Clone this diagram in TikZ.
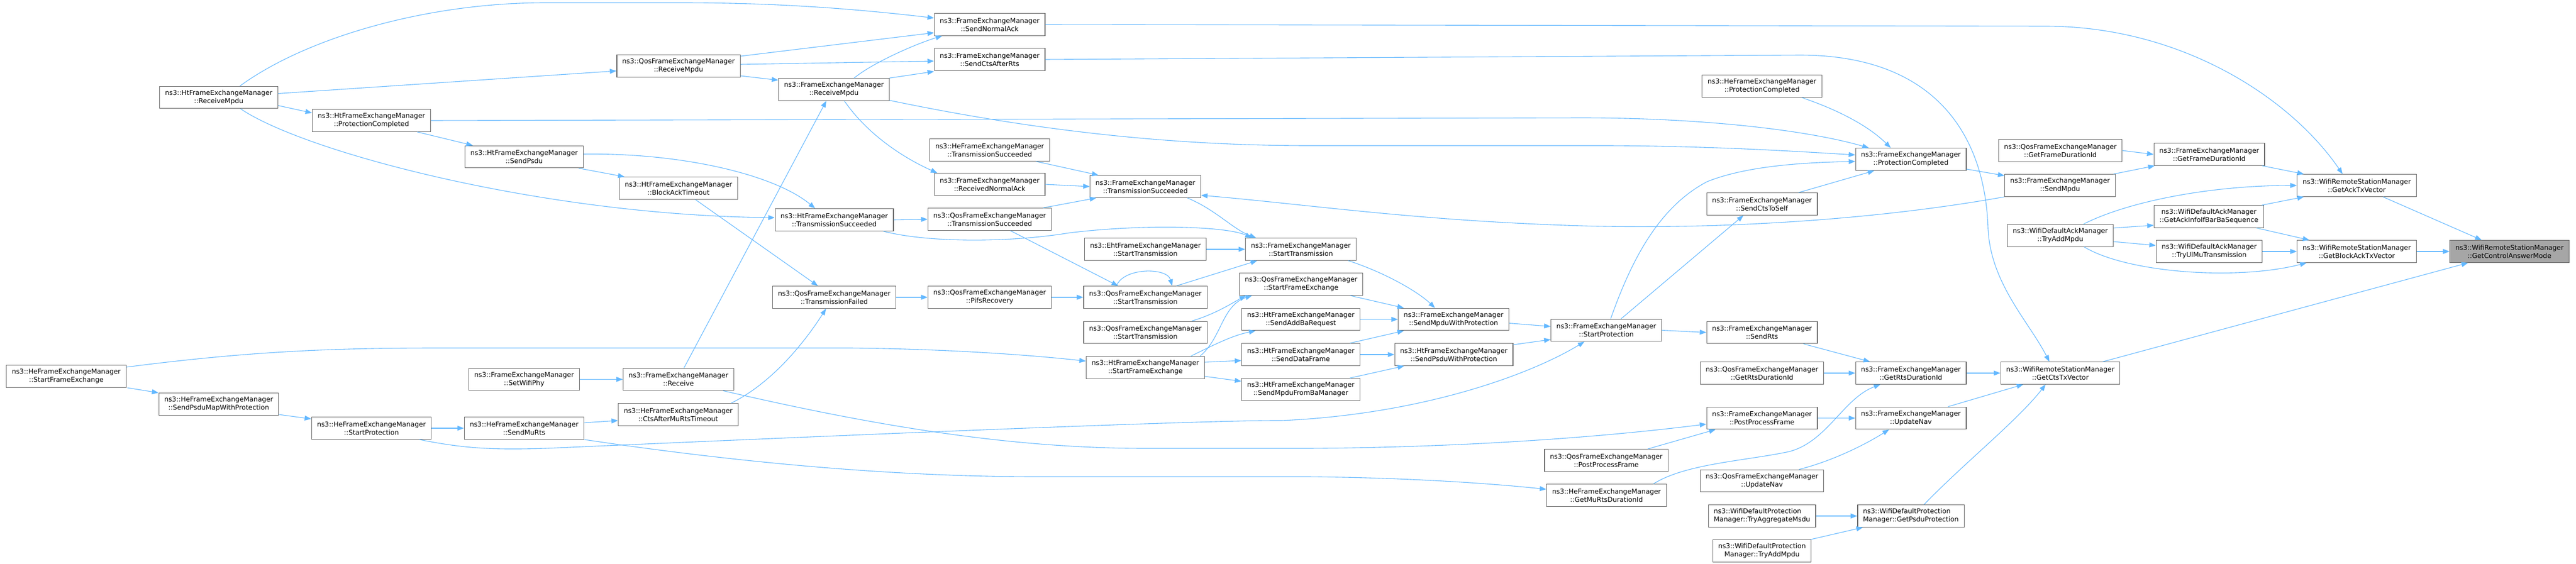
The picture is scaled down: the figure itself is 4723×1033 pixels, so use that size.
\documentclass[tikz,border=0pt]{standalone}
\usepackage{fontspec}
\setmainfont{DejaVu Sans}
\usetikzlibrary{arrows.meta}
\definecolor{edgeblue}{HTML}{63B8FF}
\definecolor{boxgray}{HTML}{666666}
\definecolor{rootgray}{HTML}{A6A6A6}
\begin{document}
\begin{tikzpicture}[x=1pt, y=-1pt,
  fn/.style={draw=boxgray, line width=1.3pt, fill=white, align=center,
    inner xsep=10pt, inner ysep=0pt, minimum height=40.5pt,
    font=\fontsize{12.3}{15}\selectfont},
  root/.style={fn, fill=rootgray},
  call/.style={edgeblue, line width=1.1pt, -{Triangle[length=12pt,width=9pt]}}]
  \fill[white] (0,0) rectangle (4723,1033);
  \useasboundingbox (0,0) rectangle (4723,1033);

  \node[fn] (htRecv) at (401,178.5) {ns3::HtFrameExchangeManager\\::ReceiveMpdu};
  \node[fn] (htProt) at (681,221) {ns3::HtFrameExchangeManager\\::ProtectionCompleted};
  \node[fn] (heSFE) at (121.5,690) {ns3::HeFrameExchangeManager\\::StartFrameExchange};
  \node[fn] (heSPMWP) at (401,741) {ns3::HeFrameExchangeManager\\::SendPsduMapWithProtection};
  \node[fn] (heSP) at (681,785) {ns3::HeFrameExchangeManager\\::StartProtection};
  \node[fn] (qosRecv) at (1244,121) {ns3::QosFrameExchangeManager\\::ReceiveMpdu};
  \node[fn] (femRecv) at (1529,164) {ns3::FrameExchangeManager\\::ReceiveMpdu};
  \node[fn] (htSendPsdu) at (961,287.5) {ns3::HtFrameExchangeManager\\::SendPsdu};
  \node[fn] (htBAT) at (1244,345) {ns3::HtFrameExchangeManager\\::BlockAckTimeout};
  \node[fn] (htTS) at (1529.5,403) {ns3::HtFrameExchangeManager\\::TransmissionSucceeded};
  \node[fn] (qosTF) at (1529.5,545) {ns3::QosFrameExchangeManager\\::TransmissionFailed};
  \node[fn] (femSWP) at (961,695.5) {ns3::FrameExchangeManager\\::SetWifiPhy};
  \node[fn] (femRcv) at (1244,695.5) {ns3::FrameExchangeManager\\::Receive};
  \node[fn] (heCAMRT) at (1243.5,760) {ns3::HeFrameExchangeManager\\::CtsAfterMuRtsTimeout};
  \node[fn] (heSMR) at (961,785) {ns3::HeFrameExchangeManager\\::SendMuRts};
  \node[fn] (femSNA) at (1814.5,45) {ns3::FrameExchangeManager\\::SendNormalAck};
  \node[fn] (femSCAR) at (1814.5,109) {ns3::FrameExchangeManager\\::SendCtsAfterRts};
  \node[fn] (heTS) at (1814.5,275) {ns3::HeFrameExchangeManager\\::TransmissionSucceeded};
  \node[fn] (femRNA) at (1814.5,338) {ns3::FrameExchangeManager\\::ReceivedNormalAck};
  \node[fn] (femTS) at (2100,342) {ns3::FrameExchangeManager\\::TransmissionSucceeded};
  \node[fn] (qosTS) at (1814.5,402) {ns3::QosFrameExchangeManager\\::TransmissionSucceeded};
  \node[fn] (ehtST) at (2100,457) {ns3::EhtFrameExchangeManager\\::StartTransmission};
  \node[fn] (femST) at (2385,457) {ns3::FrameExchangeManager\\::StartTransmission};
  \node[fn] (qosSFE) at (2385.5,521) {ns3::QosFrameExchangeManager\\::StartFrameExchange};
  \node[fn] (qosPR) at (1814.5,545) {ns3::QosFrameExchangeManager\\::PifsRecovery};
  \node[fn] (qosST1) at (2100,545) {ns3::QosFrameExchangeManager\\::StartTransmission};
  \node[fn] (qosST2) at (2100,609.5) {ns3::QosFrameExchangeManager\\::StartTransmission};
  \node[fn] (htSFE) at (2100,674) {ns3::HtFrameExchangeManager\\::StartFrameExchange};
  \node[fn] (htSABR) at (2385,585.5) {ns3::HtFrameExchangeManager\\::SendAddBaRequest};
  \node[fn] (htSDF) at (2385,650) {ns3::HtFrameExchangeManager\\::SendDataFrame};
  \node[fn] (htSMFBM) at (2385,714) {ns3::HtFrameExchangeManager\\::SendMpduFromBaManager};
  \node[fn] (femSMWP) at (2665,585.5) {ns3::FrameExchangeManager\\::SendMpduWithProtection};
  \node[fn] (htSPWP) at (2665.5,650) {ns3::HtFrameExchangeManager\\::SendPsduWithProtection};
  \node[fn] (femSP) at (2945,605.5) {ns3::FrameExchangeManager\\::StartProtection};
  \node[fn] (qosPPF) at (2945,844) {ns3::QosFrameExchangeManager\\::PostProcessFrame};
  \node[fn] (heGMRDI) at (2945.5,908) {ns3::HeFrameExchangeManager\\::GetMuRtsDurationId};
  \node[fn] (heProt) at (3230.5,158) {ns3::HeFrameExchangeManager\\::ProtectionCompleted};
  \node[fn] (femProt) at (3503.5,292) {ns3::FrameExchangeManager\\::ProtectionCompleted};
  \node[fn] (femSCTS) at (3230.5,374) {ns3::FrameExchangeManager\\::SendCtsToSelf};
  \node[fn] (qosGFDI) at (3777.5,276) {ns3::QosFrameExchangeManager\\::GetFrameDurationId};
  \node[fn] (femSM) at (3777,340) {ns3::FrameExchangeManager\\::SendMpdu};
  \node[fn] (wdamTAM) at (3777.5,432) {ns3::WifiDefaultAckManager\\::TryAddMpdu};
  \node[fn] (femSRts) at (3230.5,609.5) {ns3::FrameExchangeManager\\::SendRts};
  \node[fn] (qosGRDI) at (3230.5,684) {ns3::QosFrameExchangeManager\\::GetRtsDurationId};
  \node[fn] (femPPF) at (3230.5,766.5) {ns3::FrameExchangeManager\\::PostProcessFrame};
  \node[fn] (qosUN) at (3230.5,881.5) {ns3::QosFrameExchangeManager\\::UpdateNav};
  \node[fn, align=left] (wdpTAMsdu) at (3230.5,946) {ns3::WifiDefaultProtection\\Manager::TryAggregateMsdu};
  \node[fn] (wdpTAMpdu) at (3230.5,1010) {ns3::WifiDefaultProtection\\Manager::TryAddMpdu};
  \node[fn] (femGRDI) at (3503.5,684) {ns3::FrameExchangeManager\\::GetRtsDurationId};
  \node[fn] (femUN) at (3503.5,766.5) {ns3::FrameExchangeManager\\::UpdateNav};
  \node[fn] (wrsmGCTV) at (3777.5,684) {ns3::WifiRemoteStationManager\\::GetCtsTxVector};
  \node[fn, align=left] (wdpGPP) at (3503.5,946) {ns3::WifiDefaultProtection\\Manager::GetPsduProtection};
  \node[fn] (femGFDI) at (4050.5,283) {ns3::FrameExchangeManager\\::GetFrameDurationId};
  \node[fn] (wrsmGATV) at (4321,340) {ns3::WifiRemoteStationManager\\::GetAckTxVector};
  \node[fn] (wdamGAI) at (4050,397) {ns3::WifiDefaultAckManager\\::GetAckInfoIfBarBaSequence};
  \node[fn] (wdamTUMT) at (4050.5,461) {ns3::WifiDefaultAckManager\\::TryUlMuTransmission};
  \node[fn] (wrsmGBATV) at (4321,461) {ns3::WifiRemoteStationManager\\::GetBlockAckTxVector};
  \node[root] (wrsmGCAM) at (4601,461) {ns3::WifiRemoteStationManager\\::GetControlAnswerMode};

  \foreach \a/\b in {heSP/heSMR, htTS/qosTS, qosTF/qosPR, femSWP/femRcv, ehtST/femST,
      qosPR/qosST1, htSABR/femSMWP, htSDF/htSPWP, femSP/femSRts, qosGRDI/femGRDI,
      femPPF/femUN, femGRDI/wrsmGCTV, wdpTAMsdu/wdpGPP, wdamTUMT/wrsmGBATV,
      wrsmGBATV/wrsmGCAM, femRNA/femTS, qosGFDI/femGFDI}
    \draw[call] (\a.east) -- (\b.west);

  \draw[call] ([xshift=39pt]htRecv.north) .. controls (560,70) and (780,5) .. (1000,5)
    -- (1250,5) .. controls (1450,5) and (1600,20) .. ([yshift=12pt]femSNA.west);
  \draw[call] ([yshift=7pt]htRecv.east) -- ([yshift=-9pt]qosRecv.west);
  \draw[call] ([yshift=-15pt]htRecv.east) -- ([yshift=14pt]htProt.west);
  \draw[call] ([xshift=40pt]htRecv.south) .. controls (560,280) and (1000,395) .. ([yshift=4pt]htTS.west);
  \draw[call] (htProt.east) -- (2900,216) .. controls (3100,216) and (3300,235) .. ([xshift=-77pt]femProt.north);
  \draw[call] ([xshift=84pt]htProt.south) -- ([xshift=-94pt]htSendPsdu.north);
  \draw[call] ([xshift=112pt]heSFE.south) -- (heSPMWP.north west);
  \draw[call] ([yshift=17pt]heSFE.east) .. controls (450,645) and (600,638) .. (800,638)
    -- (1560,638) .. controls (1750,640) and (1900,652) .. ([yshift=12pt]htSFE.west);
  \draw[call] ([yshift=-19pt]heSPMWP.east) -- ([yshift=17pt]heSP.west);
  \draw[call] ([xshift=88pt]heSP.south) .. controls (850,822) and (900,825) .. (1000,822)
    .. controls (1500,800) and (2200,770) .. (2350,771)
    .. controls (2600,760) and (2800,690) .. ([xshift=-40pt]femSP.south);
  \draw[call] ([yshift=18pt]qosRecv.east) -- ([yshift=-15pt]femSNA.west);
  \draw[call] ([yshift=3pt]qosRecv.east) -- ([yshift=-3pt]femSCAR.west);
  \draw[call] ([yshift=-18pt]qosRecv.east) -- ([yshift=17pt]femRecv.west);
  \draw[call] ([xshift=37pt]femRecv.north) .. controls (1600,115) and (1680,80) .. ([xshift=-87pt]femSNA.south);
  \draw[call] (femRecv.north east) -- ([yshift=-22pt]femSCAR.west);
  \draw[call] ([xshift=19pt]femRecv.south) .. controls (1600,260) and (1680,300) .. ([xshift=-96pt]femRNA.north);
  \draw[call] ([yshift=-20pt]femRecv.east) .. controls (1900,240) and (2150,267) .. (2400,267)
    -- (2950,267) .. controls (3150,268) and (3300,278) .. ([yshift=8pt]femProt.west);
  \draw[call] ([xshift=100pt]htSendPsdu.south) -- ([xshift=-99pt]htBAT.north);
  \draw[call] ([yshift=5pt]htSendPsdu.east) .. controls (1250,280) and (1420,320) .. ([xshift=-35pt]htTS.north);
  \draw[call] ([xshift=31pt]htBAT.south) -- ([xshift=-30pt]qosTF.north);
  \draw[call] ([xshift=90pt]htTS.south) .. controls (1700,445) and (1850,445) .. (1960,427)
    .. controls (2100,410) and (2250,415) .. ([xshift=-90pt]femST.north);
  \draw[call] ([xshift=10pt]femRcv.north) -- ([xshift=-14pt]femRecv.south);
  \draw[call] ([xshift=82pt]femRcv.south) .. controls (1600,780) and (1850,822) .. (2100,822)
    -- (2400,822) .. controls (2700,820) and (2950,800) .. ([yshift=-11pt]femPPF.west);
  \draw[call] ([yshift=10pt]heSMR.east) -- ([yshift=-11pt]heCAMRT.west);
  \draw[call] (heSMR.south east) .. controls (1300,840) and (1600,874) .. (1900,874)
    -- (2400,874) .. controls (2600,876) and (2750,888) .. ([yshift=11pt]heGMRDI.west);
  \draw[call] ([xshift=97pt]heCAMRT.north) .. controls (1420,700) and (1480,620) .. ([xshift=-15pt]qosTF.south);
  \draw[call] (femSNA.east) -- (3750,48) .. controls (4000,48) and (4200,180) .. ([xshift=-26pt]wrsmGATV.north);
  \draw[call] (femSCAR.east) -- (3300,101) .. controls (3550,101) and (3640,250) .. (3645,420)
    .. controls (3650,520) and (3720,590) .. ([xshift=-20pt]wrsmGCTV.north);
  \draw[call] ([xshift=85pt]heTS.south) -- ([xshift=-86pt]femTS.north);
  \draw[call] ([xshift=98pt]qosTS.north) -- ([xshift=-90pt]femTS.south);
  \draw[call] ([xshift=38pt]qosTS.south) -- ([xshift=-50pt]qosST1.north);
  \draw[call] ([xshift=77pt]femTS.south) .. controls (2230,385) and (2260,420) .. ([xshift=-82pt]femST.north);
  \draw[call] ([xshift=-53pt]qosST1.north) .. controls (2060,490) and (2140,490) .. ([xshift=49pt]qosST1.north);
  \draw[call] ([xshift=57pt]qosST1.north) -- ([xshift=-80pt]femST.south);
  \draw[call] ([xshift=85pt]qosST2.north) .. controls (2230,575) and (2260,555) .. ([xshift=-101pt]qosSFE.south);
  \draw[call] ([xshift=100pt]htSFE.north) .. controls (2240,620) and (2240,560) .. ([xshift=-90pt]qosSFE.south);
  \draw[call] ([xshift=83pt]htSFE.north) .. controls (2230,630) and (2260,615) .. ([xshift=-83pt]htSABR.south);
  \draw[call] ([yshift=10pt]htSFE.east) -- ([yshift=-11pt]htSDF.west);
  \draw[call] ([yshift=-16pt]htSFE.east) -- ([yshift=15pt]htSMFBM.west);
  \draw[call] ([xshift=90pt]qosSFE.south) -- ([xshift=-91pt]femSMWP.north);
  \draw[call] ([xshift=87pt]femST.south) .. controls (2540,500) and (2600,535) .. ([xshift=-34pt]femSMWP.north);
  \draw[call] ([xshift=90pt]htSDF.north) -- ([xshift=-91pt]femSMWP.south);
  \draw[call] ([xshift=90pt]htSMFBM.north) -- ([xshift=-91pt]htSPWP.south);
  \draw[call] ([yshift=-7pt]femSMWP.east) -- ([yshift=7pt]femSP.west);
  \draw[call] ([yshift=18pt]htSPWP.east) -- ([yshift=-17pt]femSP.west);
  \draw[call] ([xshift=8pt]femSP.north) .. controls (2990,480) and (3040,380) .. (3130,333)
    .. controls (3200,305) and (3300,298) .. ([yshift=-4pt]femProt.west);
  \draw[call] ([xshift=27pt]femSP.north) -- ([xshift=-34pt]femSCTS.south);
  \draw[call] ([xshift=76pt]qosPPF.north) -- ([xshift=-85pt]femPPF.south);
  \draw[call] ([xshift=86pt]heGMRDI.north) .. controls (3090,850) and (3200,845) .. (3280,828)
    .. controls (3350,810) and (3380,730) .. ([xshift=-56pt]femGRDI.south);
  \draw[call] ([xshift=73pt]heProt.south) .. controls (3380,205) and (3430,235) .. ([xshift=-37pt]femProt.north);
  \draw[call] ([xshift=67pt]femSCTS.north) -- ([xshift=-67pt]femProt.south);
  \draw[call] ([yshift=-18pt]femProt.east) -- ([yshift=18pt]femSM.west);
  \draw[call] ([xshift=98pt]femSM.north) -- ([xshift=2pt]femGFDI.south west);
  \draw[call] ([xshift=-102pt]femSM.south) .. controls (3400,410) and (3100,420) .. (2900,414)
    .. controls (2600,405) and (2400,375) .. ([yshift=-16pt]femTS.east);
  \draw[call] ([xshift=42pt]wdamTAM.north) .. controls (3900,370) and (4050,340) .. (wrsmGATV.west);
  \draw[call] ([yshift=14pt]wdamTAM.east) -- ([yshift=-16pt]wdamGAI.west);
  \draw[call] ([yshift=-11pt]wdamTAM.east) -- ([yshift=11pt]wdamTUMT.west);
  \draw[call] ([xshift=44pt]wdamTAM.south) .. controls (3900,500) and (4100,515) .. ([xshift=-92pt]wrsmGBATV.south);
  \draw[call] ([xshift=76pt]femSRts.south) -- ([xshift=-75pt]femGRDI.north);
  \draw[call] ([xshift=68pt]qosUN.north) .. controls (3360,845) and (3420,815) .. ([xshift=-40pt]femUN.south);
  \draw[call] ([xshift=68pt]femUN.north) -- ([xshift=-68pt]wrsmGCTV.south);
  \draw[call] ([xshift=24pt]wdpGPP.north) .. controls (3600,850) and (3700,770) .. ([xshift=-27pt]wrsmGCTV.south);
  \draw[call] ([xshift=89pt]wdpTAMpdu.north) -- ([xshift=-88pt]wdpGPP.south);
  \draw[call] ([xshift=97pt]femGFDI.south) -- ([xshift=-97pt]wrsmGATV.north);
  \draw[call] ([xshift=97pt]wdamGAI.north) -- ([xshift=-97pt]wrsmGATV.south);
  \draw[call] ([xshift=87pt]wdamGAI.south) -- ([xshift=-87pt]wrsmGBATV.north);
  \draw[call] ([xshift=48pt]wrsmGATV.south) -- ([xshift=-51pt]wrsmGCAM.north);
  \draw[call] ([xshift=78pt]wrsmGCTV.north) -- ([xshift=-76pt]wrsmGCAM.south);
\end{tikzpicture}
\end{document}
